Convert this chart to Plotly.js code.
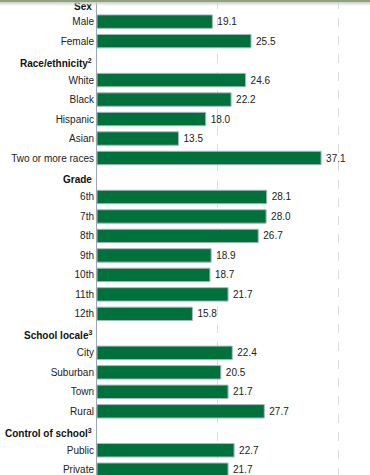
<!DOCTYPE html>
<html>
<head>
<meta charset="utf-8">
<script src="https://cdn.plot.ly/plotly-3.0.1.min.js"></script>
<style>
  html, body { margin: 0; padding: 0; background: #fff; overflow: hidden; }
  #chart { width: 370px; height: 475px; }
  #topband { position: absolute; left: 0; top: 0; width: 370px; height: 6px;
    background: linear-gradient(#8fa47c 0px, #8fa47c 2px, #c9cdc6 2px, rgba(255,255,255,0) 6px);
    pointer-events: none; }
</style>
</head>
<body>
<div id="chart"></div>
<div id="topband"></div>
<script>
const categories = [
  "Sex", "Male", "Female",
  "Race/ethnicity", "White", "Black", "Hispanic", "Asian", "Two or more races",
  "Grade", "6th", "7th", "8th", "9th", "10th", "11th", "12th",
  "School locale", "City", "Suburban", "Town", "Rural",
  "Control of school", "Public", "Private"
];
const headerLabels = {
  "Sex": "<b>Sex</b>",
  "Race/ethnicity": "<b>Race/ethnicity<sup>2</sup></b>",
  "Grade": "<b>Grade</b>",
  "School locale": "<b>School locale<sup>3</sup></b>",
  "Control of school": "<b>Control of school<sup>3</sup></b>"
};
const values = [
  null, 19.1, 25.5,
  null, 24.6, 22.2, 18.0, 13.5, 37.1,
  null, 28.1, 28.0, 26.7, 18.9, 18.7, 21.7, 15.8,
  null, 22.4, 20.5, 21.7, 27.7,
  null, 22.7, 21.7
];

const FONT = "Liberation Sans, Arial, sans-serif";

// bars only for real (non-header) rows; headers stay as empty category rows
const barCats = categories.filter((c, i) => values[i] !== null);
const barVals = values.filter(v => v !== null);
const barText = barVals.map(v => "\u2009" + v.toFixed(1));

const trace = {
  type: "bar",
  orientation: "h",
  y: barCats,
  x: barVals,
  text: barText,
  textposition: "outside",
  cliponaxis: false,
  textfont: { family: FONT, size: 10, color: "#222" },
  marker: { color: "#00713a", line: { color: "#a9b7c0", width: 1 } },
  hoverinfo: "none"
};

const annotations = Object.keys(headerLabels).map(c => ({
  xref: "paper", yref: "y", x: 0, y: c,
  xanchor: "right", yanchor: "middle", xshift: -3, yshift: c === "Sex" ? -4 : -2,
  text: headerLabels[c], showarrow: false,
  font: { family: FONT, size: 10, color: "#111" }
}));

const layout = {
  width: 370, height: 475,
  margin: { l: 97, r: 0, t: 0, b: 0, pad: 0 },
  paper_bgcolor: "#fff", plot_bgcolor: "#fff",
  showlegend: false,
  bargap: 0.31,
  font: { family: FONT, size: 10, color: "#222" },
  annotations: annotations,
  xaxis: {
    range: [0, 45.2], dtick: 20, showticklabels: false,
    showgrid: true, gridcolor: "#dcdcdc", griddash: "dash", gridwidth: 1,
    zeroline: false, showline: false, fixedrange: true
  },
  yaxis: {
    type: "category",
    categoryorder: "array", categoryarray: categories,
    range: [24.27, -0.11],
    tickmode: "array", tickvals: barCats, ticktext: barCats,
    showline: true, linecolor: "#98a8b4", linewidth: 1,
    ticks: "", showgrid: false, zeroline: false, fixedrange: true,
    tickfont: { family: FONT, size: 10, color: "#222" }
  }
};

Plotly.newPlot("chart", [trace], layout, { staticPlot: true, displayModeBar: false });
</script>
</body>
</html>
